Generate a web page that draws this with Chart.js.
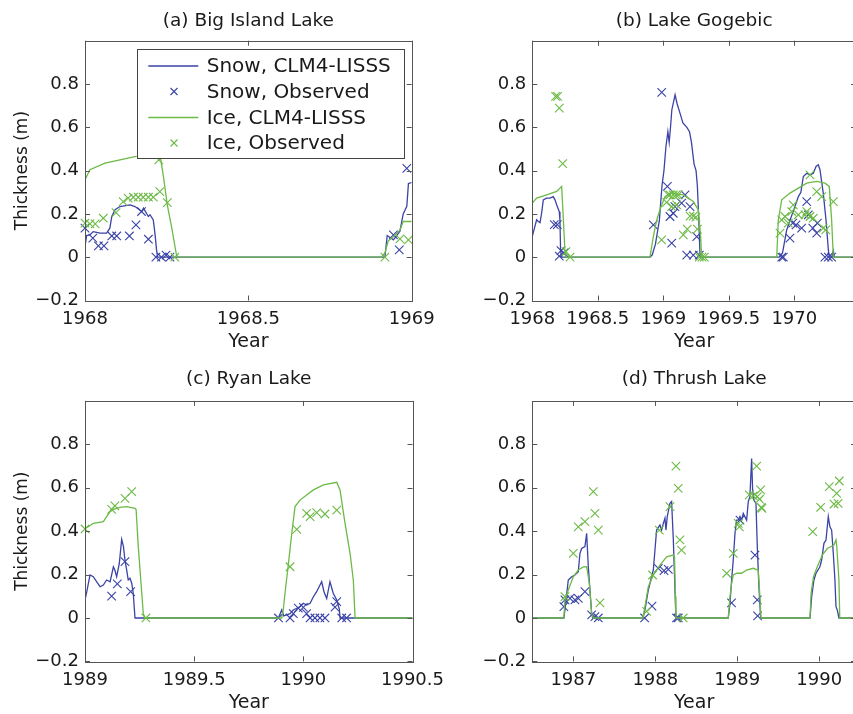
<!DOCTYPE html>
<html><head><meta charset="utf-8">
<script src="https://cdn.jsdelivr.net/npm/chart.js@4.4.1/dist/chart.umd.min.js"></script>
<style>
html,body{margin:0;padding:0;background:#fff;overflow:hidden;width:853px;height:714px;}
canvas{position:absolute;left:0;top:0;}
</style></head><body>
<canvas id="pa" width="880" height="714"></canvas>
<canvas id="pb" width="880" height="714"></canvas>
<canvas id="pc" width="880" height="714"></canvas>
<canvas id="pd" width="880" height="714"></canvas>
<script>
// ---------------- DATA ----------------
const seriesLabels = ['Snow, CLM4-LISSS', 'Snow, Observed', 'Ice, CLM4-LISSS', 'Ice, Observed'];
const yTickVals = [-0.2, 0, 0.2, 0.4, 0.6, 0.8];
const yTickLabels = ['\u22120.2', '0', '0.2', '0.4', '0.6', '0.8'];

// (a) Big Island Lake
const aXTicks = [1968, 1968.5, 1969];
const aXLabels = ['1968', '1968.5', '1969'];
const aSnowModel = [[1968.000,0.05],[1968.005,0.10],[1968.015,0.103],[1968.025,0.118],[1968.046,0.111],[1968.066,0.111],[1968.076,0.134],[1968.082,0.188],[1968.092,0.219],[1968.107,0.234],[1968.138,0.242],[1968.153,0.234],[1968.174,0.211],[1968.179,0.227],[1968.194,0.188],[1968.199,0.196],[1968.209,0.172],[1968.214,0.111],[1968.219,0.034],[1968.222,0],[1968.918,0],[1968.925,0.10],[1968.944,0.08],[1968.964,0.12],[1968.974,0.20],[1968.985,0.235],[1968.990,0.34],[1969.000,0.345]];
const aSnowObs = [[1968.000,0.134],[1968.024,0.088],[1968.041,0.052],[1968.058,0.052],[1968.082,0.098],[1968.097,0.098],[1968.136,0.098],[1968.156,0.149],[1968.173,0.211],[1968.194,0.083],[1968.217,0],[1968.234,0],[1968.248,0.01],[1968.260,0],[1968.944,0.103],[1968.962,0.034],[1968.985,0.41]];
const aIceModel = [[1968.000,0.357],[1968.015,0.404],[1968.061,0.434],[1968.107,0.45],[1968.153,0.465],[1968.200,0.475],[1968.226,0.47],[1968.232,0.45],[1968.240,0.373],[1968.252,0.24],[1968.265,0.14],[1968.280,0.01],[1968.285,0],[1968.908,0],[1968.918,0.02],[1968.928,0.075],[1968.944,0.095],[1968.964,0.125],[1968.974,0.165],[1969.000,0.165]];
const aIceObs = [[1968.000,0.157],[1968.015,0.154],[1968.031,0.154],[1968.056,0.18],[1968.095,0.206],[1968.117,0.257],[1968.132,0.273],[1968.148,0.277],[1968.163,0.277],[1968.178,0.277],[1968.194,0.277],[1968.209,0.277],[1968.229,0.303],[1968.226,0.45],[1968.252,0.252],[1968.275,0],[1968.918,0],[1968.964,0.085],[1968.990,0.08]];

// (b) Lake Gogebic
const bXTicks = [1968, 1968.5, 1969, 1969.5, 1970];
const bXLabels = ['1968', '1968.5', '1969', '1969.5', '1970'];
const bSnowModel = [[1968.000,0.096],[1968.013,0.126],[1968.033,0.173],[1968.046,0.165],[1968.059,0.160],[1968.071,0.203],[1968.084,0.265],[1968.109,0.273],[1968.135,0.273],[1968.160,0.28],[1968.173,0.265],[1968.186,0.242],[1968.206,0.21],[1968.211,0.17],[1968.216,0.03],[1968.224,0],
 [1968.898,0],[1968.915,0.01],[1968.940,0.06],[1968.970,0.17],[1968.990,0.33],[1969.005,0.40],[1969.020,0.51],[1969.035,0.58],[1969.045,0.53],[1969.055,0.60],[1969.065,0.68],[1969.090,0.75],[1969.105,0.71],[1969.125,0.67],[1969.150,0.62],[1969.180,0.60],[1969.200,0.58],[1969.215,0.53],[1969.235,0.43],[1969.250,0.40],[1969.260,0.33],[1969.270,0.19],[1969.280,0.01],[1969.285,0],
 [1969.885,0],[1969.910,0.02],[1969.942,0.126],[1969.967,0.17],[1970.005,0.234],[1970.031,0.28],[1970.050,0.30],[1970.069,0.373],[1970.095,0.388],[1970.120,0.38],[1970.145,0.388],[1970.166,0.419],[1970.183,0.427],[1970.196,0.404],[1970.221,0.296],[1970.242,0.172],[1970.260,0.034],[1970.267,0],[1970.285,0],[1970.298,0.03],[1970.305,0],[1970.471,0]];
const bSnowObs = [[1968.168,0.15],[1968.191,0.15],[1968.206,0.005],[1968.219,0.03],[1968.242,0.02],
 [1968.924,0.149],[1968.988,0.761],[1969.031,0.327],[1969.051,0.188],[1969.064,0.065],[1969.076,0.203],[1969.089,0.234],[1969.140,0.25],[1969.166,0.288],[1969.179,0.01],[1969.204,0.234],[1969.229,0.01],[1969.255,0.095],[1969.275,0.01],
 [1969.904,0],[1969.916,0],[1969.967,0.088],[1969.988,0.157],[1970.013,0.149],[1970.056,0.134],[1970.095,0.257],[1970.107,0.196],[1970.141,0.134],[1970.171,0.111],[1970.176,0.157],[1970.234,0],[1970.260,0],[1970.285,0]];
const bIceModel = [[1968.000,0.25],[1968.033,0.273],[1968.109,0.288],[1968.186,0.304],[1968.224,0.327],[1968.232,0.234],[1968.249,0.03],[1968.257,0],
 [1968.898,0],[1968.924,0.095],[1968.950,0.172],[1968.975,0.22],[1969.013,0.28],[1969.051,0.296],[1969.153,0.288],[1969.229,0.257],[1969.267,0.219],[1969.285,0.095],[1969.293,0],
 [1969.866,0],[1969.878,0.172],[1969.904,0.265],[1969.967,0.296],[1970.031,0.319],[1970.095,0.342],[1970.171,0.35],[1970.234,0.342],[1970.267,0.327],[1970.285,0.172],[1970.298,0],[1970.471,0]];
const bIceObs = [[1968.178,0.743],[1968.193,0.743],[1968.206,0.689],[1968.232,0.432],[1968.257,0.026],[1968.288,0],
 [1968.987,0.08],[1969.025,0.253],[1969.038,0.288],[1969.051,0.288],[1969.064,0.234],[1969.076,0.288],[1969.097,0.288],[1969.102,0.242],[1969.115,0.288],[1969.153,0.103],[1969.183,0.13],[1969.204,0.19],[1969.229,0.19],[1969.249,0.185],[1969.260,0.13],[1969.275,0],[1969.295,0],[1969.313,0],
 [1969.891,0.111],[1969.904,0.172],[1969.929,0.188],[1969.954,0.157],[1969.980,0.211],[1969.992,0.242],[1970.031,0.196],[1970.082,0.196],[1970.095,0.211],[1970.120,0.188],[1970.120,0.38],[1970.145,0.18],[1970.171,0.303],[1970.209,0.28],[1970.221,0.134],[1970.240,0.126],[1970.298,0.257]];

// (c) Ryan Lake
const cXTicks = [1989, 1989.5, 1990, 1990.5];
const cXLabels = ['1989', '1989.5', '1990', '1990.5'];
const cSnowModel = [[1989.000,0.083],[1989.008,0.12],[1989.023,0.198],[1989.038,0.19],[1989.053,0.167],[1989.069,0.144],[1989.084,0.152],[1989.099,0.175],[1989.115,0.167],[1989.130,0.236],[1989.137,0.22],[1989.145,0.19],[1989.157,0.25],[1989.168,0.362],[1989.176,0.33],[1989.183,0.267],[1989.191,0.22],[1989.198,0.175],[1989.206,0.183],[1989.214,0.16],[1989.221,0.114],[1989.229,0],
 [1989.886,0],[1989.901,0.037],[1989.910,0.01],[1989.939,0.02],[1989.954,0.037],[1989.970,0.045],[1989.985,0.052],[1990.000,0.068],[1990.015,0.06],[1990.031,0.068],[1990.046,0.098],[1990.061,0.121],[1990.084,0.167],[1990.095,0.12],[1990.107,0.09],[1990.122,0.167],[1990.137,0.114],[1990.153,0.083],[1990.165,0.04],[1990.168,0],[1990.500,0]];
const cSnowObs = [[1989.122,0.101],[1989.148,0.157],[1989.183,0.26],[1989.209,0.121],
 [1989.886,0],[1989.939,0],[1989.954,0.02],[1989.977,0.045],[1990.000,0.049],[1990.015,0.02],[1990.031,0],[1990.053,0],[1990.076,0],[1990.099,0],[1990.145,0.05],[1990.153,0.075],[1990.176,0],[1990.198,0]];
const cIceModel = [[1989.000,0.413],[1989.015,0.42],[1989.038,0.436],[1989.084,0.444],[1989.099,0.467],[1989.115,0.49],[1989.130,0.50],[1989.160,0.51],[1989.191,0.513],[1989.229,0.505],[1989.234,0.50],[1989.244,0.33],[1989.260,0.114],[1989.267,0.02],[1989.275,0],
 [1989.901,0],[1989.908,0.037],[1989.916,0.114],[1989.931,0.244],[1989.947,0.39],[1989.962,0.513],[1989.985,0.543],[1990.015,0.567],[1990.046,0.59],[1990.092,0.613],[1990.153,0.625],[1990.168,0.59],[1990.191,0.436],[1990.214,0.298],[1990.229,0.175],[1990.237,0],[1990.500,0]];
const cIceObs = [[1989.000,0.41],[1989.122,0.50],[1989.137,0.516],[1989.183,0.551],[1989.214,0.582],[1989.279,0],
 [1989.939,0.236],[1989.970,0.408],[1990.015,0.482],[1990.031,0.467],[1990.061,0.485],[1990.099,0.479],[1990.153,0.497]];

// (d) Thrush Lake
const dXTicks = [1987, 1988, 1989, 1990];
const dXLabels = ['1987', '1988', '1989', '1990'];
const dSnowModel = [[1986.500,0],[1986.885,0],[1986.898,0.037],[1986.939,0.175],[1986.980,0.19],[1987.020,0.198],[1987.061,0.213],[1987.081,0.298],[1987.102,0.32],[1987.142,0.329],[1987.163,0.39],[1987.183,0.236],[1987.203,0.129],[1987.224,0.021],[1987.236,0],
 [1987.850,0],[1987.874,0.037],[1987.915,0.129],[1987.955,0.19],[1987.976,0.221],[1987.996,0.313],[1988.016,0.405],[1988.057,0.428],[1988.077,0.405],[1988.098,0.436],[1988.118,0.46],[1988.130,0.405],[1988.146,0.467],[1988.179,0.528],[1988.199,0.536],[1988.220,0.36],[1988.240,0.129],[1988.252,0],
 [1988.890,0],[1988.911,0.068],[1988.931,0.175],[1988.951,0.267],[1988.972,0.39],[1988.992,0.451],[1989.012,0.451],[1989.033,0.467],[1989.053,0.451],[1989.073,0.482],[1989.114,0.451],[1989.134,0.536],[1989.154,0.559],[1989.175,0.735],[1989.187,0.59],[1989.203,0.543],[1989.228,0.528],[1989.244,0.33],[1989.264,0.144],[1989.285,0],
 [1989.887,0],[1989.907,0.098],[1989.935,0.175],[1989.960,0.206],[1990.008,0.236],[1990.029,0.267],[1990.057,0.344],[1990.082,0.359],[1990.110,0.467],[1990.130,0.42],[1990.151,0.405],[1990.171,0.298],[1990.191,0.175],[1990.204,0.052],[1990.220,0.037],[1990.240,0],[1990.448,0]];
const dSnowObs = [[1986.885,0.052],[1986.898,0.083],[1986.960,0.09],[1987.020,0.083],[1987.061,0.09],[1987.142,0.121],[1987.224,0.014],[1987.264,0.006],[1987.305,0],
 [1987.870,0],[1987.960,0.055],[1988.037,0.229],[1988.106,0.218],[1988.159,0.224],[1988.260,0],[1988.280,0],
 [1988.930,0.07],[1989.033,0.451],[1989.216,0.29],[1989.244,0.083],[1989.248,0.01]];
const dIceModel = [[1986.500,0],[1986.885,0],[1986.898,0.083],[1986.939,0.129],[1987.000,0.19],[1987.061,0.221],[1987.122,0.235],[1987.163,0.236],[1987.195,0.16],[1987.224,0.021],[1987.244,0],
 [1987.850,0],[1987.874,0.052],[1987.915,0.144],[1987.976,0.198],[1988.057,0.244],[1988.138,0.282],[1988.220,0.29],[1988.235,0.28],[1988.245,0.1],[1988.252,0],
 [1988.890,0],[1988.911,0.098],[1988.931,0.16],[1988.951,0.198],[1988.992,0.206],[1989.053,0.206],[1989.114,0.221],[1989.195,0.229],[1989.256,0.22],[1989.276,0.098],[1989.289,0],
 [1989.887,0],[1989.900,0.114],[1989.930,0.19],[1989.976,0.236],[1990.037,0.29],[1990.098,0.32],[1990.179,0.336],[1990.204,0.36],[1990.212,0.336],[1990.240,0.175],[1990.250,0],[1990.448,0]];
const dIceObs = [[1986.898,0.098],[1987.000,0.298],[1987.061,0.42],[1987.142,0.444],[1987.244,0.582],[1987.264,0.482],[1987.305,0.405],[1987.325,0.07],
 [1987.894,0.03],[1987.967,0.198],[1988.049,0.405],[1988.179,0.513],[1988.252,0.70],[1988.280,0.597],[1988.300,0.36],[1988.320,0.313],[1988.340,0],
 [1988.870,0.206],[1988.951,0.298],[1989.012,0.436],[1989.025,0.42],[1989.146,0.567],[1989.195,0.562],[1989.236,0.70],[1989.245,0.559],[1989.272,0.547],[1989.285,0.59],[1989.294,0.51],[1989.300,0.505],
 [1989.920,0.398],[1990.017,0.51],[1990.122,0.605],[1990.180,0.525],[1990.212,0.574],[1990.230,0.528],[1990.244,0.631]];

// ---------------- STYLE ----------------
const FONT = '"DejaVu Sans", sans-serif';
const BLUE = '#3a43a6';
const GREEN = '#6cba45';
const FRAME = '#555555';
const TXT = '#1a1a1a';

const panels = [
  {id:'pa', title:'(a) Big Island Lake', titleBase:26, xr:[1968,1969], xt:aXTicks, xl:aXLabels,
   plot:{l:85,r:411.7,t:40.7,b:300.5}, ylab:true, legend:true,
   d:[aSnowModel,aSnowObs,aIceModel,aIceObs]},
  {id:'pb', title:'(b) Lake Gogebic', titleBase:26, xr:[1968,1970.471], xt:bXTicks, xl:bXLabels,
   plot:{l:532.3,r:856,t:40.7,b:300.5}, ylab:false, legend:false,
   d:[bSnowModel,bSnowObs,bIceModel,bIceObs]},
  {id:'pc', title:'(c) Ryan Lake', titleBase:384, xr:[1989,1990.5], xt:cXTicks, xl:cXLabels,
   plot:{l:85,r:412.5,t:400.9,b:661.4}, ylab:true, legend:false,
   d:[cSnowModel,cSnowObs,cIceModel,cIceObs]},
  {id:'pd', title:'(d) Thrush Lake', titleBase:384, xr:[1986.5,1990.448], xt:dXTicks, xl:dXLabels,
   plot:{l:532.3,r:856,t:400.9,b:661.4}, ylab:false, legend:false,
   d:[dSnowModel,dSnowObs,dIceModel,dIceObs]}
];

const CW = 880, CH = 714, YW = 80, XH = 51;

const framePlugin = {
  id: 'frame',
  afterDraw(chart, args, opts) {
    const {ctx, chartArea: a, scales} = chart;
    ctx.save();
    ctx.strokeStyle = FRAME; ctx.lineWidth = 1;
    ctx.strokeRect(Math.round(a.left)+0.5, Math.round(a.top)+0.5, Math.round(a.right-a.left), Math.round(a.bottom-a.top));
    const tl = 5;
    ctx.beginPath();
    scales.x.ticks.forEach(t => {
      const px = Math.round(scales.x.getPixelForValue(t.value)) + 0.5;
      ctx.moveTo(px, a.bottom); ctx.lineTo(px, a.bottom - tl);
      ctx.moveTo(px, a.top); ctx.lineTo(px, a.top + tl);
    });
    scales.y.ticks.forEach(t => {
      const py = Math.round(scales.y.getPixelForValue(t.value)) + 0.5;
      ctx.moveTo(a.left, py); ctx.lineTo(a.left + tl, py);
      ctx.moveTo(a.right, py); ctx.lineTo(a.right - tl, py);
    });
    ctx.stroke();
    // panel title
    ctx.fillStyle = TXT;
    ctx.font = '18.5px ' + FONT;
    ctx.textAlign = 'center'; ctx.textBaseline = 'alphabetic';
    ctx.fillText(opts.title, (a.left + a.right) / 2, opts.titleBase);
    ctx.restore();
  }
};

const legendPlugin = {
  id: 'boxlegend',
  afterDatasetsDraw(chart, args, opts) {
    if (!opts.show) return;
    const {ctx, chartArea: a} = chart;
    const L = a.left + 51.7, T = a.top + 8.6, R = a.left + 318.3, B = a.top + 117.6;
    ctx.save();
    ctx.fillStyle = '#ffffff';
    ctx.fillRect(L, T, R - L, B - T);
    ctx.strokeStyle = '#444'; ctx.lineWidth = 1;
    ctx.strokeRect(Math.round(L)+0.5, Math.round(T)+0.5, Math.round(R-L), Math.round(B-T));
    const rowY = [a.top + 25.3, a.top + 50.8, a.top + 76.8, a.top + 102.3];
    ctx.font = '20px ' + FONT;
    ctx.textAlign = 'left'; ctx.textBaseline = 'middle';
    chart.data.datasets.forEach((ds, i) => {
      const y = rowY[i];
      ctx.strokeStyle = ds.borderColor; ctx.lineWidth = 1.3;
      if (ds.showLine) {
        ctx.beginPath(); ctx.moveTo(L + 11.6, y); ctx.lineTo(L + 61.6, y); ctx.stroke();
      } else {
        const cx = L + 37.3, r = 3.5;
        ctx.lineWidth = 1.1;
        ctx.beginPath();
        ctx.moveTo(cx - r, y - r); ctx.lineTo(cx + r, y + r);
        ctx.moveTo(cx - r, y + r); ctx.lineTo(cx + r, y - r);
        ctx.stroke();
      }
      ctx.fillStyle = TXT;
      ctx.fillText(ds.label, L + 70, y + 1);
    });
    ctx.restore();
  }
};

const toXY = arr => arr.map(p => ({x: p[0], y: p[1]}));

panels.forEach(p => {
  const lineDs = (label, data, color, ord) => ({
    label, data: toXY(data), showLine: true, borderColor: color, backgroundColor: color,
    borderWidth: 1.3, pointRadius: 0, tension: 0, order: ord, clip: 0
  });
  const obsDs = (label, data, color, ord) => ({
    label, data: toXY(data), showLine: false, borderColor: color, backgroundColor: 'rgba(0,0,0,0)',
    pointStyle: 'crossRot', pointRadius: 6, pointBorderWidth: 1.1, borderWidth: 1.1, order: ord, clip: 8
  });
  new Chart(document.getElementById(p.id), {
    type: 'scatter',
    data: {datasets: [
      lineDs(seriesLabels[0], p.d[0], BLUE, 4),
      obsDs(seriesLabels[1], p.d[1], BLUE, 3),
      lineDs(seriesLabels[2], p.d[2], GREEN, 2),
      obsDs(seriesLabels[3], p.d[3], GREEN, 1)
    ]},
    options: {
      responsive: false, animation: false, events: [], devicePixelRatio: 1,
      layout: {padding: {left: p.plot.l - YW, right: CW - p.plot.r, top: p.plot.t, bottom: CH - p.plot.b - XH}},
      plugins: {
        legend: {display: false}, tooltip: {enabled: false}, title: {display: false},
        frame: {title: p.title, titleBase: p.titleBase},
        boxlegend: {show: p.legend}
      },
      scales: {
        x: {
          type: 'linear', min: p.xr[0], max: p.xr[1],
          grid: {display: false, drawTicks: false}, border: {display: false},
          afterBuildTicks: s => { s.ticks = p.xt.map(v => ({value: v})); },
          afterFit: s => { s.height = XH; },
          ticks: {autoSkip: false, maxRotation: 0, minRotation: 0, padding: 9.5, color: TXT,
                  font: {family: FONT, size: 18, lineHeight: 1},
                  callback: (v, i) => p.xl[i]},
          title: {display: true, text: 'Year', color: TXT, padding: {top: 0, bottom: 0},
                  font: {family: FONT, size: 19, lineHeight: 1}}
        },
        y: {
          type: 'linear', min: -0.2, max: 1.0,
          grid: {display: false, drawTicks: false}, border: {display: false},
          afterBuildTicks: s => { s.ticks = yTickVals.map(v => ({value: v})); },
          afterFit: s => { s.width = YW; },
          ticks: {autoSkip: false, padding: 6, color: TXT,
                  font: {family: FONT, size: 18, lineHeight: 1},
                  callback: (v, i) => yTickLabels[i]},
          title: {display: p.ylab, text: 'Thickness (m)', color: TXT, padding: {top: 9, bottom: 0},
                  font: {family: FONT, size: 17, lineHeight: 1}}
        }
      }
    },
    plugins: [legendPlugin, framePlugin]
  });
});
</script>
</body></html>
